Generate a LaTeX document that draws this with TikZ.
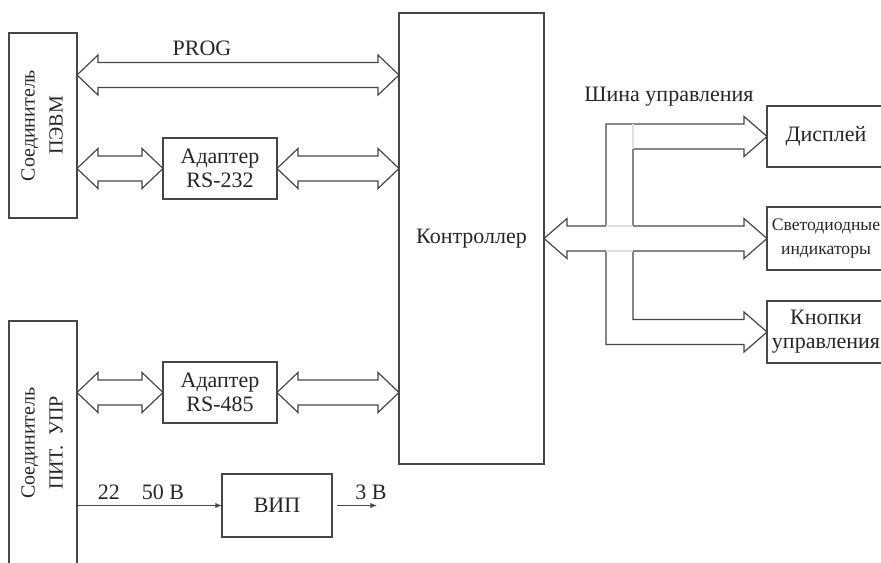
\documentclass[tikz,border=0pt]{standalone}
\usepackage{fontspec}
\setmainfont{Liberation Serif}
\usetikzlibrary{calc,arrows.meta}

% hollow two-headed bus arrow between two points on one level
\newcommand\dblbus[2]{%
  \draw[bus] (#1) -- ++(21,-20) -- ++(0,7.5) -- ($(#2)+(-21,-12.5)$) -- ++(0,-7.5) -- (#2)
    -- ++(-21,20) -- ++(0,-7.5) -- ($(#1)+(21,12.5)$) -- ++(0,7.5) -- cycle;}

\begin{document}
\begin{tikzpicture}[x=0.75pt,y=-0.75pt,
  box/.style={draw=black!72,line width=0.9pt,inner sep=0pt,outer sep=0pt,align=center,text=black!85,
    font=\fontsize{16.5}{18}\selectfont},
  lbl/.style={text=black!85,inner sep=0pt,font=\fontsize{16.5}{18}\selectfont},
  bus/.style={draw=black!72,line width=0.9pt,line join=miter},
  wire/.style={draw=black!72,line width=0.8pt,-{Latex[length=5pt,width=4pt]}}]
\useasboundingbox (0,0) rectangle (881,562);
\clip (0,0) rectangle (881,562);

% blocks
\node[box,minimum width=51pt,minimum height=138.75pt] (pevm) at (43,125.5)
  {\rotatebox{90}{\fontsize{15}{21}\selectfont\begin{tabular}{@{}c@{}}Соединитель\\ПЭВМ\end{tabular}}};
\node[box,minimum width=51pt,minimum height=183pt] (upr) at (43,443)
  {\rotatebox{90}{\fontsize{15}{21}\selectfont\begin{tabular}{@{}c@{}}Соединитель\\ПИТ.\ \ УПР\end{tabular}}};
\node[box,minimum width=85.5pt,minimum height=45.75pt] (a232) at (220,168.5) {Адаптер\\RS-232};
\node[box,minimum width=85.5pt,minimum height=45.75pt] (a485) at (220,392.5) {Адаптер\\RS-485};
\node[box,minimum width=108.75pt,minimum height=338.25pt] (ctrl) at (471.5,238.5) {Контроллер};
\node[box,minimum width=82.5pt,minimum height=47.25pt] (vip) at (277,505.5) {ВИП};
\node[box,minimum width=88.5pt,minimum height=45.75pt] (disp) at (826,136.5) {Дисплей};
\node[box,minimum width=88.5pt,minimum height=47.25pt,font=\fontsize{13.2}{18}\selectfont] (led) at (826,238.5)
  {Светодиодные\\индикаторы};
\node[box,minimum width=88.5pt,minimum height=46.5pt] (btn) at (826,332) {Кнопки\\управления};

% labels
\node[lbl] (prog) at (202,48) {PROG};
\node[lbl] (bus) at (669,97) {Шина управления};
\node[lbl] (vin) at (141,492) {22\quad 50 В};
\node[lbl] (vout) at (371,492) {3 В};

% left side buses
\coordinate (progL) at ($(pevm.east)+(0,-50.5)$);
\dblbus{progL}{progL -| ctrl.west}
\dblbus{pevm.east |- a232.west}{a232.west}
\dblbus{a232.east}{a232.east -| ctrl.west}
\dblbus{upr.east |- a485.west}{a485.west}
\dblbus{a485.east}{a485.east -| ctrl.west}

% power
\coordinate (v3) at ($(vip.east)+(45,0)$);
\draw[wire] (upr.east |- vip.west) -- (vip.west);
\draw[wire] ($(vip.east)+(5,0)$) -- (v3);

% control bus
\draw[bus] (ctrl.east) -- ++(23,-20) -- ++(0,7.5) -| ($(disp.west)+(-161,-12.5)$) -- ++(138,0) -- ++(0,-7.5)
  -- (disp.west) -- ++(-23,20) -- ++(0,-7.5) -| ($(led.west)+(-134,-12.5)$) -- ++(111,0) -- ++(0,-7.5)
  -- (led.west) -- ++(-23,20) -- ++(0,-7.5) -| ($(btn.west)+(-134,-12.5)$) -- ++(111,0) -- ++(0,-7.5)
  -- (btn.west) -- ++(-23,20) -- ++(0,-7.5) -| ($(ctrl.east)+(62,12.5)$) -- ++(-39,0) -- ++(0,7.5) -- cycle;
\draw[black!12,line width=0.8pt] ($(ctrl.east)+(62,-12.5)$) -- ++(27,0)
  ($(ctrl.east)+(62,12.5)$) -- ++(27,0) ($(disp.west)+(-134,-12.5)$) -- ++(0,25);

\end{tikzpicture}
\end{document}
